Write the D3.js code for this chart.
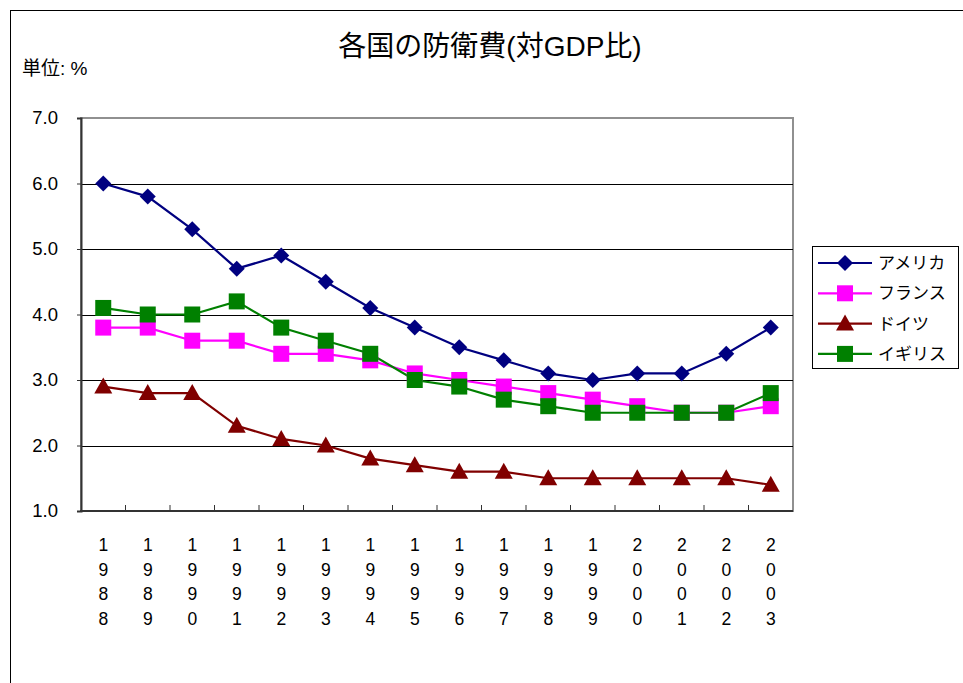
<!DOCTYPE html>
<html>
<head>
<meta charset="utf-8">
<script src="https://cdn.jsdelivr.net/npm/d3@7"></script>
<style>
  body { margin: 0; background: #fff; }
  text { font-family: "Liberation Sans", Arial, "Noto Sans CJK JP", sans-serif; }
</style>
</head>
<body>
<div id="chart"></div>
<script>
// years (categories)
const years = ["1988","1989","1990","1991","1992","1993","1994","1995",
               "1996","1997","1998","1999","2000","2001","2002","2003"];

// defence spending, % of GDP
const america = [6.0, 5.8, 5.3, 4.7, 4.9, 4.5, 4.1, 3.8, 3.5, 3.3, 3.1, 3.0, 3.1, 3.1, 3.4, 3.8];
const france  = [3.8, 3.8, 3.6, 3.6, 3.4, 3.4, 3.3, 3.1, 3.0, 2.9, 2.8, 2.7, 2.6, 2.5, 2.5, 2.6];
const germany = [2.9, 2.8, 2.8, 2.3, 2.1, 2.0, 1.8, 1.7, 1.6, 1.6, 1.5, 1.5, 1.5, 1.5, 1.5, 1.4];
const uk      = [4.1, 4.0, 4.0, 4.2, 3.8, 3.6, 3.4, 3.0, 2.9, 2.7, 2.6, 2.5, 2.5, 2.5, 2.5, 2.8];

const seriesNames = ["アメリカ", "フランス", "ドイツ", "イギリス"];
const yTicks = [1.0, 2.0, 3.0, 4.0, 5.0, 6.0, 7.0];

const series = [
  { name: seriesNames[0], values: america, color: "#000080", shape: "diamond" },
  { name: seriesNames[1], values: france,  color: "#FF00FF", shape: "square" },
  { name: seriesNames[2], values: germany, color: "#800000", shape: "triangle" },
  { name: seriesNames[3], values: uk,      color: "#008000", shape: "square" }
];

const W = 963, H = 683;
const plot = { left: 81, right: 793, top: 118, bottom: 511 };

const svg = d3.select("#chart").append("svg")
  .attr("width", W).attr("height", H);

// outer chart border
svg.append("rect")
  .attr("x", 10.5).attr("y", 10.5)
  .attr("width", W + 20).attr("height", H + 20)
  .attr("fill", "none").attr("stroke", "#000").attr("stroke-width", 1);

svg.append("text")
  .attr("x", 490).attr("y", 56)
  .attr("text-anchor", "middle")
  .attr("font-size", 28)
  .text("各国の防衛費(対GDP比)");

svg.append("text")
  .attr("x", 22).attr("y", 75)
  .attr("font-size", 19)
  .text("単位: %");

const x = d3.scaleBand().domain(years).range([plot.left, plot.right]);
const y = d3.scaleLinear().domain([1, 7]).range([plot.bottom, plot.top]);
const cx = d => x(d) + x.bandwidth() / 2;

// plot area frame
svg.append("rect")
  .attr("x", plot.left).attr("y", plot.top)
  .attr("width", plot.right - plot.left).attr("height", plot.bottom - plot.top)
  .attr("fill", "none").attr("stroke", "#909090").attr("stroke-width", 2);

// gridlines
svg.append("g").selectAll("line")
  .data(yTicks.slice(1, -1))
  .join("line")
  .attr("x1", plot.left).attr("x2", plot.right)
  .attr("y1", d => Math.round(y(d)) + 0.5).attr("y2", d => Math.round(y(d)) + 0.5)
  .attr("stroke", "#000").attr("stroke-width", 1);

// y axis
const yAxis = d3.axisLeft(y).tickValues(yTicks).tickFormat(d3.format(".1f"))
  .tickSize(4).tickPadding(19);
const gy = svg.append("g").attr("transform", `translate(${plot.left},0)`).call(yAxis);
gy.select(".domain").attr("stroke", "#333").attr("stroke-width", 2);
gy.selectAll(".tick line").attr("stroke", "#333");
gy.selectAll(".tick text").attr("font-size", 18.5).attr("fill", "#000")
  .attr("font-family", "Liberation Sans, Arial, sans-serif");

// x axis: ticks at category boundaries, pointing inward
const gx = svg.append("g");
gx.append("line")
  .attr("x1", plot.left - 1).attr("x2", plot.right)
  .attr("y1", plot.bottom).attr("y2", plot.bottom)
  .attr("stroke", "#333").attr("stroke-width", 2);
gx.selectAll("line.tk")
  .data(years.slice(1))
  .join("line").attr("class", "tk")
  .attr("x1", d => x(d)).attr("x2", d => x(d))
  .attr("y1", plot.bottom).attr("y2", plot.bottom - 6)
  .attr("stroke", "#333").attr("stroke-width", 1);

// vertical stacked year labels
const lbl = gx.selectAll("text.yr")
  .data(years)
  .join("text").attr("class", "yr")
  .attr("font-size", 17.5)
  .attr("text-anchor", "middle");
lbl.selectAll("tspan")
  .data(d => d.split("").map(c => ({ c, yr: d })))
  .join("tspan")
  .attr("x", d => cx(d.yr))
  .attr("y", (d, i) => 551 + i * 24.5)
  .text(d => d.c);

// marker drawing
function marker(sel, shape, color) {
  if (shape === "diamond") {
    sel.append("path").attr("d", "M0,-8L8,0L0,8L-8,0Z").attr("fill", color);
  } else if (shape === "square") {
    sel.append("rect").attr("x", -8).attr("y", -8).attr("width", 16).attr("height", 16)
      .attr("fill", color);
  } else {
    sel.append("path").attr("d", "M0,-9L9,7L-9,7Z").attr("fill", color);
  }
}

const line = d3.line().x((d, i) => cx(years[i])).y(d => y(d));

series.forEach(s => {
  svg.append("path")
    .datum(s.values)
    .attr("d", line)
    .attr("fill", "none")
    .attr("stroke", s.color)
    .attr("stroke-width", 2.2);
});
series.forEach(s => {
  svg.append("g").selectAll("g")
    .data(s.values)
    .join("g")
    .attr("transform", (d, i) => `translate(${cx(years[i])},${y(d)})`)
    .each(function () { marker(d3.select(this), s.shape, s.color); });
});

// legend
const lg = svg.append("g").attr("transform", "translate(812,246)");
lg.append("rect").attr("x", 0.5).attr("y", 0.5).attr("width", 146).attr("height", 122)
  .attr("fill", "#fff").attr("stroke", "#000");
series.forEach((s, i) => {
  const row = lg.append("g").attr("transform", `translate(0,${17 + i * 30.3})`);
  row.append("line").attr("x1", 6).attr("x2", 60).attr("y1", 0).attr("y2", 0)
    .attr("stroke", s.color).attr("stroke-width", 2.2);
  const m = row.append("g").attr("transform", "translate(33,0)");
  marker(m, s.shape, s.color);
  row.append("text").attr("x", 66).attr("y", 6).attr("font-size", 17).text(s.name);
});
</script>
</body>
</html>
